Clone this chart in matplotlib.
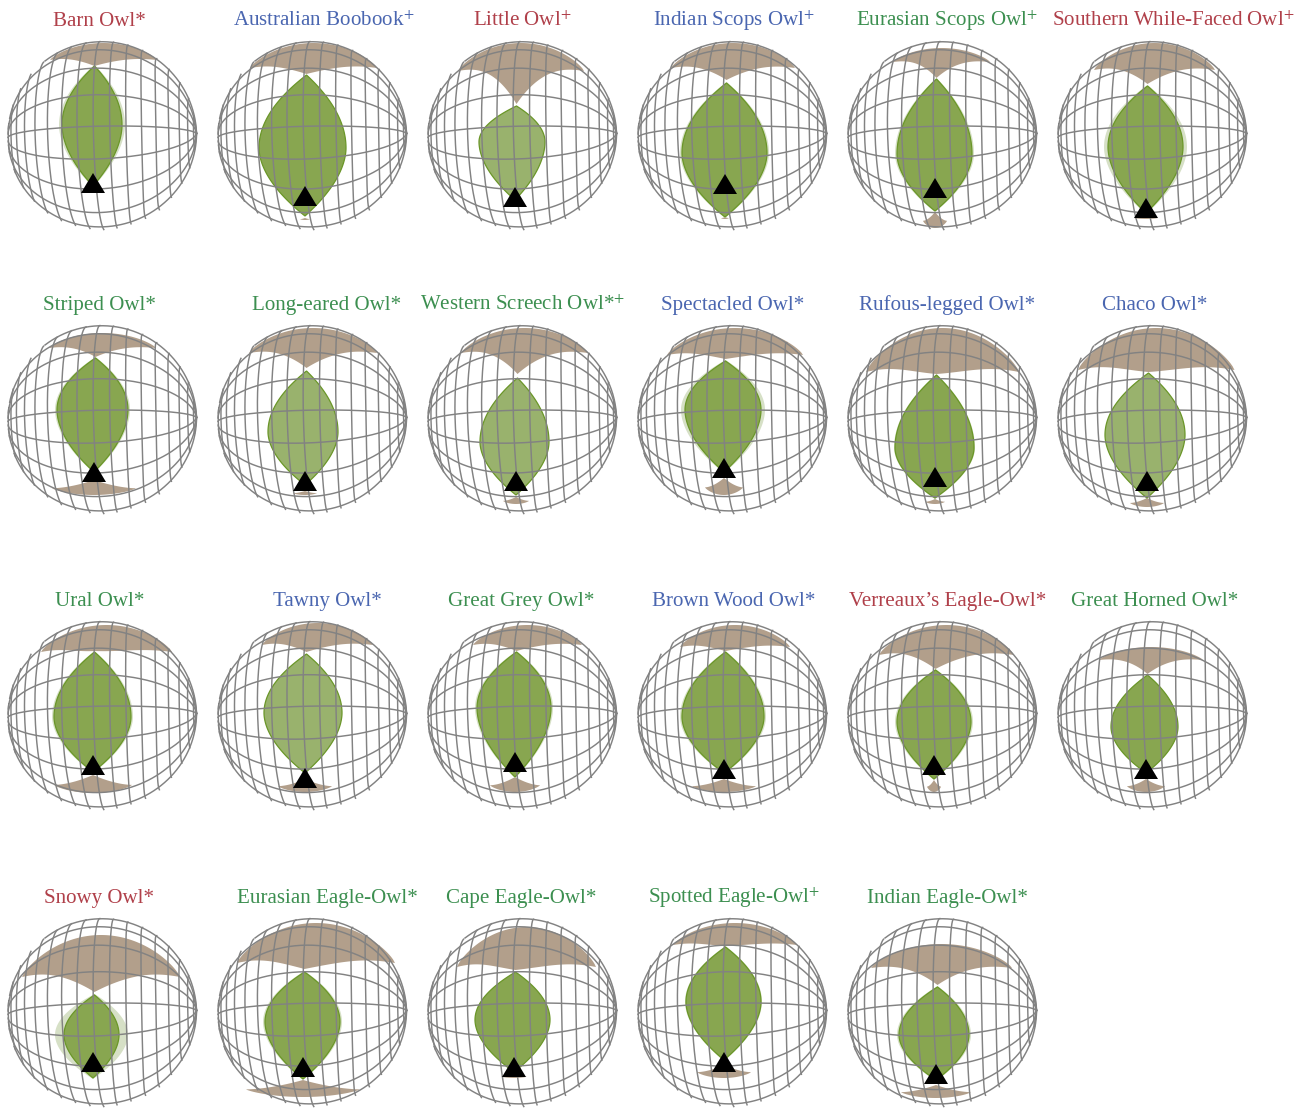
#owl visual field charts on a tilted globe
import numpy as np
import matplotlib
matplotlib.use('Agg')
import matplotlib.pyplot as plt

plt.rcParams['font.family'] = ['Liberation Serif', 'DejaVu Serif']
plt.rcParams['mathtext.fontset'] = 'stix'

names = ['Barn Owl*', 'Australian Boobook$^{+}$', 'Little Owl$^{+}$', 'Indian Scops Owl$^{+}$',
         'Eurasian Scops Owl$^{+}$', 'Southern While-Faced Owl$^{+}$',
         'Striped Owl*', 'Long-eared Owl*', 'Western Screech Owl*$^{+}$', 'Spectacled Owl*',
         'Rufous-legged Owl*', 'Chaco Owl*',
         'Ural Owl*', 'Tawny Owl*', 'Great Grey Owl*', 'Brown Wood Owl*',
         "Verreaux\u2019s Eagle-Owl*", 'Great Horned Owl*',
         'Snowy Owl*', 'Eurasian Eagle-Owl*', 'Cape Eagle-Owl*', 'Spotted Eagle-Owl$^{+}$',
         'Indian Eagle-Owl*']
groups = ['r', 'b', 'r', 'b', 'g', 'r',
          'g', 'g', 'g', 'b', 'b', 'b',
          'g', 'b', 'g', 'b', 'r', 'g',
          'r', 'g', 'g', 'g', 'g']
title_shift = [-3, 11.5, 0, 1.5, 4.5, 20.5,
               -3.5, 14.5, 0, 0.5, 4.5, 2.5,
               -3, 14.5, -1.5, 1.5, 5.5, 2.5,
               -3.5, 14.5, -1.5, 1.5, 4.5]

# binocular field outline (sphere radius = 94.5 units)
field_top = [70, 61, 30, 53, 57, 50, 62, 49, 42, 59, 45, 47, 64, 62, 64, 64, 46, 41, 18, 41, 41, 66, 26]
field_bottom = [-50, -80, -64, -81, -75, -77, -52, -65, -75, -52, -78, -78, -56, -57, -61, -57, -63, -57,
                -65, -66, -59, -47, -67]
field_widest = [11, -12, -6, -17, -18, -11, 10, -12, -22, 10, -28, -15, -1, 3, 8, -1, -6, -11, -22, -9, -7, 11, -22]
field_left = [-40.5, -53.5, -43.5, -50.5, -45.5, -44.5, -45.5, -44.5, -42.5, -47.5, -47.5, -47.5,
              -48.5, -48.5, -45.5, -50.5, -45.5, -41.5, -38.5, -47.5, -47.5, -46.5, -43.5]
field_right = [19.5, 33.5, 22.5, 34.5, 29.5, 30.5, 25.5, 25.5, 26.5, 28.5, 31.5, 32.5,
               28.5, 29.5, 28.5, 31.5, 28.5, 25.5, 16.5, 27.5, 27.5, 28.5, 26.5]
field_spread = [3, 0, 0, 2, 2, 4, 2, 0, 0, 4, 1, 0, 2, 0, 2, 2, 2, 0, 9, 2, 0, 1, 2]
pale_field = ['Little Owl$^{+}$', 'Long-eared Owl*', 'Western Screech Owl*$^{+}$', 'Chaco Owl*', 'Tawny Owl*']

# bill direction marker
bill_x = [-9.5, -7.5, -7.5, -7.5, -7.5, -6.5, -8.5, -7.5, -6.5, -8.5, -7.5, -5.5,
          -9.5, -7.5, -7.5, -8.5, -8.5, -6.5, -9.5, -9.5, -8.5, -8.5, -6.5]
bill_y = [-37, -50, -51, -38, -42, -62, -42, -51, -51, -38, -47, -51,
          -39, -52, -36, -43, -39, -43, -39, -44, -44, -39, -51]

# blind area above the head
upper_tip = [70, 62, 32, 56, 58, 52, 63, 52, 46, 61, 46, 48, 65, 64, 65, 65, 47, 42, 21, 44, 43, 67, 28]
upper_top = [93, 93, 93, 93, 88, 93, 87, 92, 92, 92, 92, 92, 91, 93, 91, 91, 91, 69, 78, 90, 86, 90, 69]
upper_left = [-52.5, -62.5, -64.5, -61.5, -49.5, -58.5, -53.5, -63.5, -61.5, -65.5, -76.5, -74.5,
              -61.5, -50.5, -49.5, -52.5, -63.5, -53.5, -80.5, -75.5, -65.5, -59.5, -71.5]
upper_right = [54.5, 64.5, 61.5, 62.5, 47.5, 62.5, 53.5, 64.5, 65.5, 70.5, 76.5, 82,
               69.5, 60.5, 59.5, 57.5, 71.5, 50.5, 77.5, 82.5, 73.5, 64.5, 69.5]
upper_end = [76, 68, 65, 68, 74, 66, 72, 67, 67, 65, 48, 50, 64, 71, 71, 69, 61, 56, 36, 50, 46, 68, 45]

# blind area below the bill, None where the globe shows none
lower_tip = [None, -82, None, -81, -76, -81, -60, -71, -77, -58, -79, -78, -59, -63, -61, -63, -64, -63,
             None, -67, -62, -52, -72]
lower_bottom = [None, -84, None, -83, -92, -83, -75, -75, -84, -75, -84, -87, -77, -76, -76, -76, -76, -76,
                None, -84, -65, -65, -85]
lower_half = [None, 5, None, 4, 12, 12, 42, 12, 13, 19, 10, 17, 39, 27, 25, 32, 7, 19, None, 57, 13, 27, 35]

title_colors = {'r': '#b0404a', 'b': '#4a66b0', 'g': '#3c8f50'}
grid_az = np.arange(-80, 81, 10)
grid_el = np.arange(-80, 81, 20)
YAW, PITCH, ROLL = np.radians(5.5), np.radians(6), np.radians(1)
R = 94.5


def project(x, y, z):
    #turn the globe then drop the depth
    x1 = x*np.cos(YAW) - z*np.sin(YAW)
    z1 = x*np.sin(YAW) + z*np.cos(YAW)
    y2 = y*np.cos(PITCH) + z1*np.sin(PITCH)
    z2 = -y*np.sin(PITCH) + z1*np.cos(PITCH)
    x3 = x1*np.cos(ROLL) - y2*np.sin(ROLL)
    y3 = x1*np.sin(ROLL) + y2*np.cos(ROLL)
    return R*x3, R*y3, z2


def draw_globe(ax):
    u = np.radians(np.linspace(-90, 90, 200))
    for el in np.radians(grid_el):
        px, py, pz = project(np.sin(u), np.cos(u)*np.sin(el), np.cos(u)*np.cos(el))
        py = np.where(pz < 0, np.nan, py)
        ax.plot(px, py, color='#828282', lw=1.05, zorder=4)
    v = np.radians(np.linspace(-88, 88, 200))
    for az in np.radians(grid_az):
        #these lines barely close in towards the top and bottom
        sx = np.sin(az)*np.cos(0.42*v)
        sy = np.sin(v)
        sz = np.sqrt(np.clip(1 - sx**2 - sy**2, 0, None))
        px, py, pz = project(sx, sy, sz)
        py = np.where((pz < 0) | (sx**2 + sy**2 > 1), np.nan, py)
        ax.plot(px, py, color='#828282', lw=1.05, zorder=4)


def lens(top, bottom, widest, left, right, tip_x, low_x, n=40):
    #leaf shape, pointed at both ends and fullest at widest
    t = np.linspace(0, 1, n)
    y_up = widest + (top-widest)*t
    y_dn = widest + (bottom-widest)*t
    shape_up = 1 - t**2.0
    shape_dn = 1 - t**1.85
    xs = np.concatenate([tip_x + (left-tip_x)*shape_up[::-1], low_x + (left-low_x)*shape_dn,
                         low_x + (right-low_x)*shape_dn[::-1], tip_x + (right-tip_x)*shape_up])
    ys = np.concatenate([y_up[::-1], y_dn, y_dn[::-1], y_up])
    return xs, ys


def blind_patch(tip_x, tip, crest, x_left, x_right, end, power=3, swell=0.12):
    #concave edges from the tip out to the wings, arc along the far side
    u = np.linspace(0, 1, 40)
    lift = 1 - (1-u)**power
    bulge = swell*(crest-end)*np.sin(np.pi*u)*u
    xl = tip_x + (x_left-tip_x)*u
    xr = tip_x + (x_right-tip_x)*u
    yl = tip + (end-tip)*lift + bulge
    w = np.linspace(-1, 1, 80)
    xa = (x_left+x_right)/2 + w*(x_right-x_left)/2
    ya = end + (crest-end)*(1-w**2)**0.8
    return np.concatenate([xl, xa, xr[::-1]]), np.concatenate([yl, ya, yl[::-1]])


col_x = [102.5, 312.5, 522.5, 732.5, 942.5, 1152.5]
row_y = [136, 420, 716, 1013]
W, H = 1309, 1108

fig = plt.figure(figsize=(W/100, H/100), dpi=100)

for i, name in enumerate(names):
    cx = col_x[i % 6]
    cy = row_y[i // 6]
    half_w, half_h = 105, 135
    ax = fig.add_axes([(cx-half_w)/W, 1-(cy+half_h)/H, 2*half_w/W, 2*half_h/H])
    ax.set_xlim(-half_w, half_w)
    ax.set_ylim(-half_h, half_h)
    ax.axis('off')

    tip_x = bill_x[i] + 1.5
    low_x = bill_x[i]

    xs, ys = blind_patch(tip_x, upper_tip[i], upper_top[i], upper_left[i], upper_right[i], upper_end[i])
    ax.fill(xs, ys, color='#b29f8b', lw=0, zorder=1)
    if lower_tip[i] is not None:
        end = lower_bottom[i] + (lower_tip[i]-lower_bottom[i])*0.45
        xs, ys = blind_patch(low_x, lower_tip[i], lower_bottom[i], low_x-lower_half[i], low_x+lower_half[i], end,
                             power=1.7, swell=0)
        ax.fill(xs, ys, color='#b29f8b', lw=0, zorder=1)

    if field_spread[i] > 0:
        xs, ys = lens(field_top[i]+1, field_bottom[i]-1, field_widest[i],
                      field_left[i]-field_spread[i], field_right[i]+field_spread[i], tip_x, low_x)
        ax.fill(xs, ys, color='#d6e0c6', lw=0, zorder=2)

    fc = '#99b26d' if name in pale_field else '#88a650'
    xs, ys = lens(field_top[i], field_bottom[i], field_widest[i], field_left[i], field_right[i], tip_x, low_x)
    ax.fill(xs, ys, facecolor=fc, edgecolor='#6a9628', lw=0.9, zorder=3)

    draw_globe(ax)

    ax.fill([bill_x[i]-12, bill_x[i]+12, bill_x[i]], [bill_y[i]-20, bill_y[i]-20, bill_y[i]],
            color='black', lw=0, zorder=5)

    ax.text(title_shift[i], 110, name, ha='center', va='baseline', fontsize=15.15,
            color=title_colors[groups[i]], clip_on=False)

fig.savefig('out.png', dpi=100)
